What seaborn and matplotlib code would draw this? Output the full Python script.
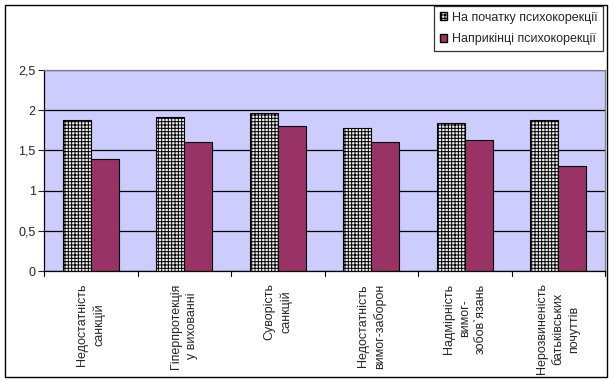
import pandas as pd
import matplotlib
matplotlib.use("Agg")
import matplotlib.pyplot as plt
import seaborn as sns
from matplotlib.patches import Patch, Rectangle

categories = [
    "Недостатність\nсанкцій",
    "Гіперпротекція\nу вихованні",
    "Суворість\nсанкцій",
    "Недостатність\nвимог-заборон",
    "Надмірність\nвимог-\nзобов`язань",
    "Нерозвиненість\nбатьківських\nпочуттів",
]
series = ["На початку психокорекції", "Наприкінці психокорекції"]
before = [1.88, 1.92, 1.97, 1.78, 1.84, 1.88]
after = [1.39, 1.60, 1.80, 1.60, 1.63, 1.30]

df = pd.DataFrame({
    "category": categories * 2,
    "series": [series[0]] * len(categories) + [series[1]] * len(categories),
    "value": before + after,
})

sns.set_style("white")
plt.rcParams["font.family"] = ["Liberation Sans", "DejaVu Sans"]
plt.rcParams["hatch.linewidth"] = 0.7
plt.rcParams["hatch.color"] = "#202020"

fs = 9

fig = plt.figure(figsize=(6.14, 3.81), dpi=100)
ax = fig.add_axes([44 / 614, 1 - 271 / 381, (605 - 44) / 614, (271 - 70) / 381])

colors = ["#c8c8c8", "#993366"]
sns.barplot(data=df, x="category", y="value", hue="series", palette=colors,
            width=0.6, saturation=1, ax=ax, legend=False, edgecolor="black",
            linewidth=0.8)

n = len(categories)
for i, bar in enumerate(ax.patches[:2 * n]):
    if i < n:
        bar.set_facecolor("#eeeeee")
        bar.set_hatch("+++++")
        bar.set_edgecolor("black")

ax.set_facecolor("#ccccff")
ax.set_ylim(0, 2.5)
ax.set_xlim(-0.5, n - 0.5)
ax.set_yticks([0, 0.5, 1, 1.5, 2, 2.5])
ax.set_yticklabels(["0", "0,5", "1", "1,5", "2", "2,5"], fontsize=fs)
ax.yaxis.grid(True, color="black", linewidth=0.9)
ax.set_axisbelow(True)

ax.set_xticks(range(n))
ax.set_xticklabels(categories, rotation=90, fontsize=fs, va="top", ha="center",
                   multialignment="center", linespacing=1.45)
ax.tick_params(axis="x", length=0, pad=9)
ax.tick_params(axis="y", length=4, width=0.8, left=True, pad=2)
for b in range(n + 1):
    ax.plot([b - 0.5, b - 0.5], [0, -0.06], color="black", lw=0.8,
            clip_on=False)
ax.set_xlabel("")
ax.set_ylabel("")

for s in ["top", "right"]:
    ax.spines[s].set_color("#808080")
    ax.spines[s].set_linewidth(0.9)
for s in ["left", "bottom"]:
    ax.spines[s].set_color("black")
    ax.spines[s].set_linewidth(0.9)

handles = [Patch(facecolor="#eeeeee", edgecolor="black", hatch="+++++"),
           Patch(facecolor=colors[1], edgecolor="black")]
leg = fig.legend(handles, series, loc="upper left",
                 bbox_to_anchor=(434 / 614, 1 - 6 / 381), fontsize=fs,
                 frameon=True, fancybox=False, edgecolor="black",
                 handlelength=0.6, handleheight=0.6, handletextpad=0.35,
                 borderpad=0.45, labelspacing=0.75, borderaxespad=0)
leg.get_frame().set_linewidth(0.9)

fig.patches.append(Rectangle((5 / 614, 1 - 377 / 381), (607 - 5) / 614,
                             (377 - 5) / 381, transform=fig.transFigure,
                             fill=False, edgecolor="black", linewidth=1))

fig.savefig("out.png", dpi=100)
